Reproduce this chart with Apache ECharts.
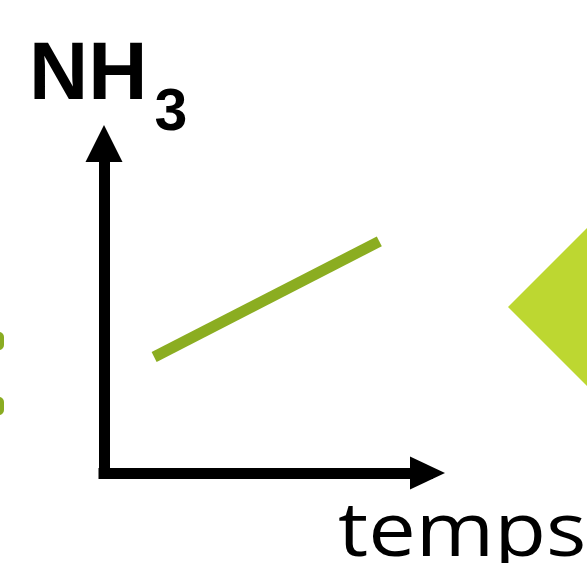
<!DOCTYPE html>
<html>
<head>
<meta charset="utf-8">
<script src="https://cdn.jsdelivr.net/npm/echarts@6/dist/echarts.min.js"></script>
<style>html,body{margin:0;padding:0;background:#fff;}#c{width:587px;height:563px;}</style>
</head>
<body>
<div id="c"></div>
<script>
// data
const lineX = [15.5, 85.1];
const lineY = [35.2, 70.3];
const yName = 'NH';
const ySub = '3';
const xName = 'temps';

const chart = echarts.init(document.getElementById('c'), null, {renderer: 'canvas'});
const pts = lineX.map((x, i) => [x, lineY[i]]);
chart.setOption({
  animation: false,
  backgroundColor: '#ffffff',
  grid: {left: 104, right: 159.5, top: 143.5, bottom: 90, containLabel: false},
  xAxis: {
    type: 'value', min: 0, max: 100,
    axisLine: {show: true, onZero: false, symbol: ['none', 'triangle'], symbolSize: [33, 35],
      lineStyle: {color: '#000', width: 11, cap: 'square'}},
    axisTick: {show: false}, axisLabel: {show: false}, splitLine: {show: false}
  },
  yAxis: {
    type: 'value', min: 0, max: 100,
    axisLine: {show: true, onZero: false, symbol: ['none', 'triangle'], symbolSize: [37, 37],
      lineStyle: {color: '#000', width: 11, cap: 'square'}},
    axisTick: {show: false}, axisLabel: {show: false}, splitLine: {show: false}
  },
  series: [{
    type: 'line', data: pts, showSymbol: false, symbol: 'none',
    lineStyle: {color: '#8bad21', width: 11, cap: 'butt'}, silent: true
  }],
  graphic: [
    {type: 'polygon', shape: {points: [[508, 307], [590, 225], [672, 307], [590, 389]]}, style: {fill: '#bdd731'}, silent: true},
    {type: 'rect', shape: {x: -20, y: 332, width: 24, height: 18, r: 5}, style: {fill: '#8aac22'}, silent: true},
    {type: 'rect', shape: {x: -20, y: 397, width: 24, height: 18, r: 5}, style: {fill: '#8aac22'}, silent: true},
    {type: 'text', x: 29, y: 76.6, style: {text: yName, font: 'bold 82px "Liberation Sans"', fill: '#000', textAlign: 'left', textVerticalAlign: 'middle'}, silent: true},
    {type: 'text', x: 154.5, y: 113.7, style: {text: ySub, font: 'bold 59px "Liberation Sans"', fill: '#000', textAlign: 'left', textVerticalAlign: 'middle'}, silent: true},
    {type: 'text', x: 338, y: 534.6, scaleX: 1.13, originX: 0, originY: 0, style: {text: xName, font: '75px "Open Sans"', fill: '#000', textAlign: 'left', textVerticalAlign: 'middle'}, silent: true}
  ]
});
</script>
</body>
</html>
